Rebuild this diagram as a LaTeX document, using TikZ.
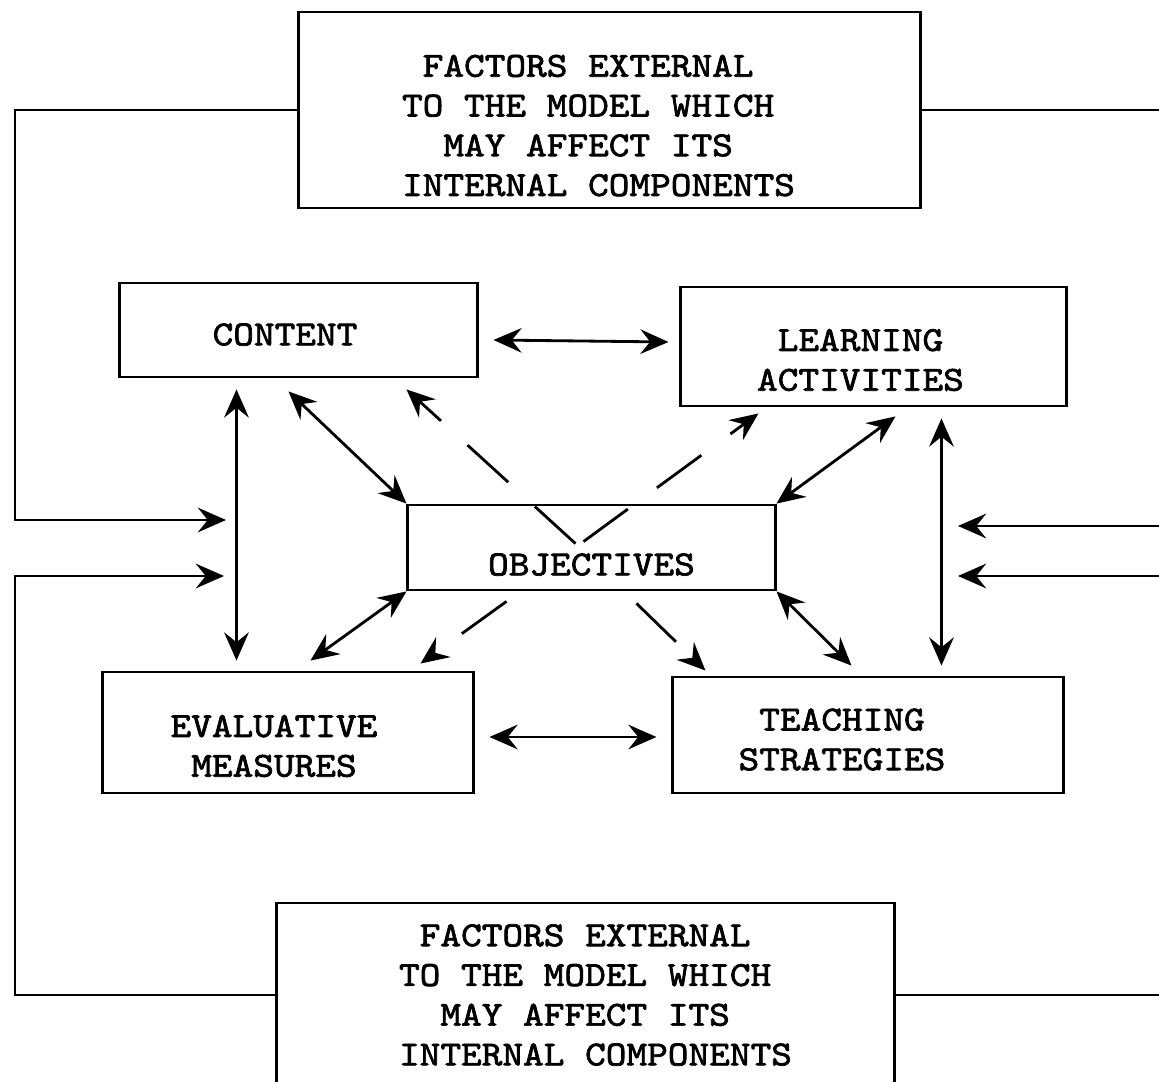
\documentclass[tikz,border=0pt]{standalone}
\usepackage{fontspec}
\newfontfamily\typewriter[FakeBold=2, FakeStretch=1.12]{Latin Modern Mono}
\usetikzlibrary{arrows.meta,calc}

\begin{document}
\begin{tikzpicture}[x=0.01cm, y=-0.01cm, line width=0.8pt,
    box/.style={draw, rectangle, inner sep=0pt, align=center,
      font=\typewriter\fontsize{10}{11.3}\selectfont},
    extbox/.style={box, align=left},
    brokenline/.style={dash pattern=on 0.55cm off 0.36cm},
    >={Stealth[length=8pt, width=7pt, inset=2.8pt]}]
  \useasboundingbox (0,0) rectangle (1159,1082);
  \clip (0,0) rectangle (1159,1082);

  \node[extbox, minimum width=6.21cm, minimum height=1.96cm] (extA) at (609.5,110)
    {\rule{0pt}{0.53cm}\phantom{M}FACTORS EXTERNAL\\TO THE MODEL WHICH\\\phantom{MM}MAY AFFECT ITS\\INTERNAL COMPONENTS\rule{0.22cm}{0pt}};
  \node[box, minimum width=3.57cm, minimum height=0.94cm] (content) at (298.5,330)
    {\rule{0pt}{0.31cm}CONTENT\rule{0.27cm}{0pt}};
  \node[box, minimum width=3.85cm, minimum height=1.19cm] (learning) at (873.5,346.5)
    {\rule{0pt}{0.49cm}LEARNING\rule{0.26cm}{0pt}\\ACTIVITIES\rule{0.26cm}{0pt}};
  \node[box, minimum width=3.67cm, minimum height=0.85cm, text height=0.56cm] (objectives) at (591.5,547.5) {OBJECTIVES};
  \node[box, minimum width=3.70cm, minimum height=1.21cm] (evaluative) at (288,732.5)
    {\rule{0pt}{0.49cm}EVALUATIVE\rule{0.28cm}{0pt}\\MEASURES\rule{0.28cm}{0pt}};
  \node[box, minimum width=3.90cm, minimum height=1.16cm] (teaching) at (868,735)
    {\rule{0pt}{0.31cm}TEACHING\rule{0.52cm}{0pt}\\STRATEGIES\rule{0.52cm}{0pt}};
  \node[extbox, minimum width=6.17cm, minimum height=1.84cm] (extB) at (585.5,995)
    {\rule{0.2cm}{0pt}\phantom{M}FACTORS EXTERNAL\\\rule{0.2cm}{0pt}TO THE MODEL WHICH\\\rule{0.2cm}{0pt}\phantom{MM}MAY AFFECT ITS\\\rule{0.2cm}{0pt}INTERNAL COMPONENTS};

  % outside factors feeding in from both sides
  \coordinate (edgeL) at (15,0);
  \coordinate (edgeR) at (1170,0);
  \coordinate (inL1) at (226,520);
  \coordinate (inL2) at (224,576);
  \coordinate (inR1) at (958,526);
  \coordinate (inR2) at (958,576);
  \draw[->] (extA.west) -| (edgeL |- inL1) -- (inL1);
  \draw[->] (extB.west) -| (edgeL |- inL2) -- (inL2);
  \draw (extA.east) -- (extA.east -| edgeR);
  \draw (extB.east) -- (extB.east -| edgeR);
  \draw[->] (edgeR |- inR1) -- (inR1);
  \draw[->] (edgeR |- inR2) -- (inR2);

  % links between the components
  \draw[<->] ($(content.south west)+(118,11)$) -- ($(evaluative.north west)+(135,-10)$);
  \draw[<->] ($(learning.south west)+(262,11)$) -- ($(teaching.north west)+(270,-10)$);
  \draw[<->] ($(content.east)+(15,10)$) -- ($(learning.west)+(-11,-4.5)$);
  \draw[<->] ($(evaluative.east)+(15,4.5)$) -- ($(teaching.west)+(-15,2)$);
  \draw[<->] ($(content.south west)+(170,13)$) -- (objectives.north west);
  \draw[<->] ($(learning.south west)+(216,9)$) -- (objectives.north east);
  \draw[<->] (objectives.south west) -- ($(evaluative.north west)+(209,-10)$);
  \draw[<->] (objectives.south east) -- ($(teaching.north west)+(180,-10)$);

  % objectives acting on the others
  \draw[->, brokenline] ($(objectives.north west)+(169,40)$) -- ($(content.south west)+(288,11)$);
  \draw[->, brokenline] ($(objectives.north west)+(177,38)$) -- ($(learning.south west)+(79,6)$);
  \draw[->, brokenline] ($(objectives.south west)+(100,10)$) -- ($(evaluative.north west)+(319,-7)$);
  \draw[->, brokenline] ($(objectives.south west)+(230,12)$) -- ($(teaching.north west)+(34,-5)$);
\end{tikzpicture}
\end{document}
